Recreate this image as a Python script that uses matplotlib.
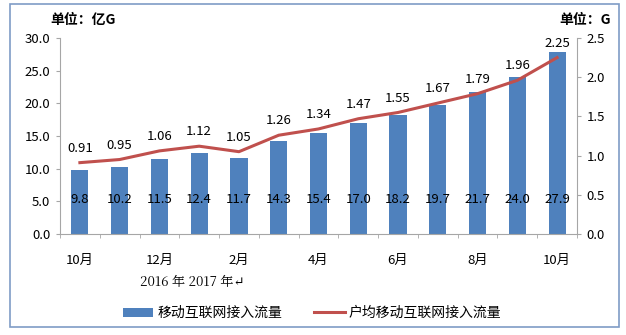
import matplotlib as mpl
mpl.use('Agg')
import matplotlib.pyplot as plt
import numpy as np
from matplotlib.patches import Rectangle

plt.rcParams['font.family'] = ['Noto Sans CJK SC', 'DejaVu Sans']

# ========== Data ==========
months = ['10月', '11月', '12月', '1月', '2月', '3月', '4月', '5月', '6月', '7月', '8月', '9月', '10月']
traffic = [9.8, 10.2, 11.5, 12.4, 11.7, 14.3, 15.4, 17.0, 18.2, 19.7, 21.7, 24.0, 27.9]
per_user = [0.91, 0.95, 1.06, 1.12, 1.05, 1.26, 1.34, 1.47, 1.55, 1.67, 1.79, 1.96, 2.25]
bar_name = '移动互联网接入流量'
line_name = '户均移动互联网接入流量'

BLUE = '#4F81BD'
RED = '#C0504D'
GRAY = '#A6A6A6'

fig = plt.figure(figsize=(6.26, 3.35), dpi=100)
fig.patches.append(Rectangle((10 / 626, 1 - 327 / 335), 609 / 626, 323 / 335,
                             transform=fig.transFigure, fill=False,
                             edgecolor='#7F9CC6', lw=1.2))

ax = fig.add_axes([60 / 626, 1 - 234 / 335, 517 / 626, 196 / 335])
ax2 = ax.twinx()

x = np.arange(len(months))
bars = ax.bar(x, traffic, width=0.43, color=BLUE, label=bar_name, zorder=2)
ln, = ax2.plot(x, per_user, color=RED, lw=2.2, label=line_name, zorder=3)

ax.set_xlim(-0.5, len(months) - 0.5)
ax.set_ylim(0, 30)
ax2.set_ylim(0, 2.5)
ax.set_yticks(np.arange(0, 30.1, 5))
ax.set_yticklabels([f'{v:.1f}' for v in np.arange(0, 30.1, 5)])
ax2.set_yticks(np.arange(0, 2.51, 0.5))
ax2.set_yticklabels([f'{v:.1f}' for v in np.arange(0, 2.51, 0.5)])

ax.set_xticks(x[::2])
ax.set_xticklabels(months[::2])
ax.set_xticks(np.arange(-0.5, len(months), 1), minor=True)
ax.tick_params(axis='x', which='major', length=0, pad=14, labelsize=9.5)
ax.tick_params(axis='x', which='minor', length=3, color=GRAY, direction='out')
ax.tick_params(axis='y', length=3, color=GRAY, labelsize=9.5, pad=4)
ax2.tick_params(axis='y', length=3, color=GRAY, labelsize=9.5, pad=4)

for a in (ax, ax2):
    a.spines['top'].set_visible(False)
    for s in ('left', 'right', 'bottom'):
        a.spines[s].set_color(GRAY)
ax.spines['right'].set_visible(False)
ax2.spines['left'].set_visible(False)
ax2.spines['bottom'].set_visible(False)

# bar labels inside base
for xi, v in zip(x, traffic):
    ax.text(xi, 5.3, f'{v:.1f}', ha='center', va='center', fontsize=9.5, zorder=4)
# line labels above points
for xi, v in zip(x, per_user):
    ax2.text(xi, v + 0.1, f'{v:.2f}', ha='center', va='bottom', fontsize=9.5, zorder=4)

fig.text(50 / 626, 1 - 20 / 335, '单位：亿G', ha='left', va='center', fontsize=10, fontweight='bold')
fig.text(611 / 626, 1 - 20 / 335, '单位：G', ha='right', va='center', fontsize=10, fontweight='bold')
fig.text(140 / 626, 1 - 282 / 335, '2016 年 2017 年↵', ha='left', va='center', fontsize=9.5,
         family=['Noto Serif CJK SC', 'Noto Sans CJK SC', 'DejaVu Serif'])

fig.legend([bars, ln], [bar_name, line_name], ncol=2, loc='center',
           bbox_to_anchor=(312 / 626, 1 - 313 / 335), frameon=False, fontsize=10,
           handlelength=2.2, handleheight=0.6, columnspacing=2.3, handletextpad=0.3)

fig.savefig('out.png', dpi=100)
